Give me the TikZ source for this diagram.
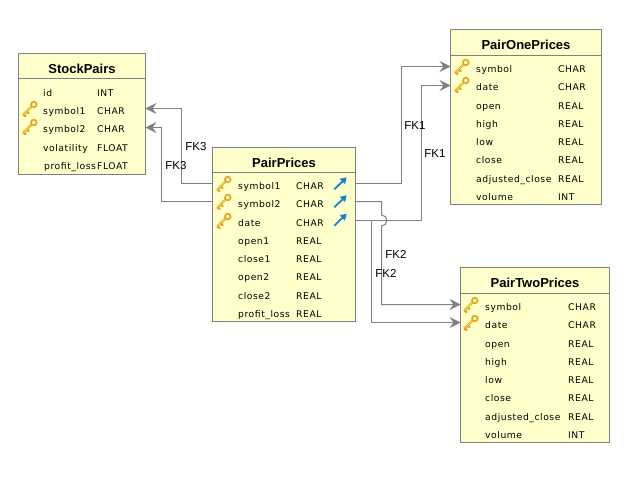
\documentclass[tikz,border=0pt]{standalone}
\usepackage{fontspec}
\usetikzlibrary{positioning,arrows.meta}
\setmainfont{Liberation Sans}
\newfontfamily\fieldfont[LetterSpace=6]{DejaVu Sans}
\definecolor{tablefill}{RGB}{255,255,204}
\definecolor{tableline}{RGB}{128,128,128}
\definecolor{keygold}{RGB}{250,215,90}
\definecolor{keyedge}{RGB}{228,168,30}
\definecolor{fkblue}{RGB}{20,130,205}
\tikzset{
    tablehead/.style={draw=tableline, fill=tablefill, line width=1pt, inner sep=0pt, outer sep=0pt, text height=14.6pt, text depth=0pt, font=\bfseries\fontsize{13}{14}\selectfont},
    tablebody/.style={draw=tableline, fill=tablefill, line width=1pt, inner sep=0pt, outer sep=0pt},
    fieldname/.style={anchor=base west, inner sep=0pt, font=\fieldfont\fontsize{9.2}{10}\selectfont},
    fkline/.style={draw=tableline, line width=1pt},
    fkarrow/.style={fkline, -{Stealth[length=11pt, width=11pt, inset=4pt]}},
    fklabel/.style={inner sep=0pt, font=\fontsize{11.5}{12}\selectfont},
    keyicon/.pic={
        \draw[keyedge, line width=2.4pt, line cap=round] (-6.5,6) -- (1.5,-2) (-6.5,6) -- (-4.5,7.5) (-3.4,2.9) -- (-1.5,4.6);
        \draw[keygold, line width=1pt, line cap=round] (-6,5.5) -- (1.5,-2);
        \draw[keyedge, fill=tablefill, line width=1.7pt] (3.8,-4) circle (2.8pt);
    },
    fkicon/.pic={
        \draw[fkblue, line width=1.8pt, -{Triangle[length=6pt, width=7pt]}] (0,0) -- (12.4,-12);
    }
}

\begin{document}
\begin{tikzpicture}[x=1pt, y=-1pt]
    \useasboundingbox (0,0) rectangle (628,487);

    \node[tablehead, anchor=north west, minimum width=127pt, minimum height=25pt] (stock) at (18.5,53.5) {StockPairs};
    \node[tablebody, below=0pt of stock, minimum width=127pt, minimum height=96pt] (stockbody) {};

    \node[tablehead, anchor=north west, minimum width=143pt, minimum height=25pt] (prices) at (212.5,147.5) {PairPrices};
    \node[tablebody, below=0pt of prices, minimum width=143pt, minimum height=149pt] (pricesbody) {};

    \node[tablehead, anchor=north west, minimum width=151pt, minimum height=26pt] (one) at (450.5,29.5) {PairOnePrices};
    \node[tablebody, below=0pt of one, minimum width=151pt, minimum height=149pt] (onebody) {};

    \node[tablehead, anchor=north west, minimum width=149pt, minimum height=26pt] (two) at (460.5,267.5) {PairTwoPrices};
    \node[tablebody, below=0pt of two, minimum width=149pt, minimum height=149pt] (twobody) {};

    % StockPairs
    \node[fieldname] (sid) at (43,96.7) {id};
    \node[fieldname] (sidt) at (97,96.7) {INT};
    \node[fieldname] (ssym1) at (43,114.7) {symbol1};
    \node[fieldname] (ssym1t) at (97,114.7) {CHAR};
    \node[fieldname] (ssym2) at (43,132.7) {symbol2};
    \node[fieldname] (ssym2t) at (97,132.7) {CHAR};
    \node[fieldname] (svol) at (43,151.7) {volatility};
    \node[fieldname] (svolt) at (97,151.7) {FLOAT};
    \node[fieldname] (sprof) at (44,169.7) {profit\_loss};
    \node[fieldname] (sproft) at (97,169.7) {FLOAT};

    % PairPrices
    \node[fieldname] (psym1) at (238,189.7) {symbol1};
    \node[fieldname] (psym1t) at (296,189.7) {CHAR};
    \node[fieldname] (psym2) at (238,207.7) {symbol2};
    \node[fieldname] (psym2t) at (296,207.7) {CHAR};
    \node[fieldname] (pdate) at (238,226.7) {date};
    \node[fieldname] (pdatet) at (296,226.7) {CHAR};
    \node[fieldname] (popen1) at (238,244.7) {open1};
    \node[fieldname] (popen1t) at (296,244.7) {REAL};
    \node[fieldname] (pclose1) at (238,262.7) {close1};
    \node[fieldname] (pclose1t) at (296,262.7) {REAL};
    \node[fieldname] (popen2) at (238,280.7) {open2};
    \node[fieldname] (popen2t) at (296,280.7) {REAL};
    \node[fieldname] (pclose2) at (238,299.7) {close2};
    \node[fieldname] (pclose2t) at (296,299.7) {REAL};
    \node[fieldname] (pprof) at (238,317.7) {profit\_loss};
    \node[fieldname] (pproft) at (296,317.7) {REAL};

    % PairOnePrices
    \node[fieldname] (asym) at (476,72.7) {symbol};
    \node[fieldname] (asymt) at (558,72.7) {CHAR};
    \node[fieldname] (adate) at (476,90.7) {date};
    \node[fieldname] (adatet) at (558,90.7) {CHAR};
    \node[fieldname] (aopen) at (476,109.7) {open};
    \node[fieldname] (aopent) at (558,109.7) {REAL};
    \node[fieldname] (ahigh) at (476,127.7) {high};
    \node[fieldname] (ahight) at (558,127.7) {REAL};
    \node[fieldname] (alow) at (476,145.7) {low};
    \node[fieldname] (alowt) at (558,145.7) {REAL};
    \node[fieldname] (aclose) at (476,163.7) {close};
    \node[fieldname] (acloset) at (558,163.7) {REAL};
    \node[fieldname] (aadj) at (476,182.7) {adjusted\_close};
    \node[fieldname] (aadjt) at (558,182.7) {REAL};
    \node[fieldname] (avol) at (476,200.7) {volume};
    \node[fieldname] (avolt) at (558,200.7) {INT};

    % PairTwoPrices
    \node[fieldname] (bsym) at (485,310.7) {symbol};
    \node[fieldname] (bsymt) at (568,310.7) {CHAR};
    \node[fieldname] (bdate) at (485,328.7) {date};
    \node[fieldname] (bdatet) at (568,328.7) {CHAR};
    \node[fieldname] (bopen) at (485,347.7) {open};
    \node[fieldname] (bopent) at (568,347.7) {REAL};
    \node[fieldname] (bhigh) at (485,365.7) {high};
    \node[fieldname] (bhight) at (568,365.7) {REAL};
    \node[fieldname] (blow) at (485,383.7) {low};
    \node[fieldname] (blowt) at (568,383.7) {REAL};
    \node[fieldname] (bclose) at (485,401.7) {close};
    \node[fieldname] (bcloset) at (568,401.7) {REAL};
    \node[fieldname] (badj) at (485,420.7) {adjusted\_close};
    \node[fieldname] (badjt) at (568,420.7) {REAL};
    \node[fieldname] (bvol) at (485,438.7) {volume};
    \node[fieldname] (bvolt) at (568,438.7) {INT};

    % icons
    \pic at (30,108.5) {keyicon};
    \pic at (30,126.5) {keyicon};
    \pic at (224,183.5) {keyicon};
    \pic at (224,201.5) {keyicon};
    \pic at (224,220.5) {keyicon};
    \pic at (462,66.5) {keyicon};
    \pic at (462,84.5) {keyicon};
    \pic at (471,304.5) {keyicon};
    \pic at (471,322.5) {keyicon};
    \pic at (334.3,189.3) {fkicon};
    \pic at (334.3,207.3) {fkicon};
    \pic at (334.3,225.7) {fkicon};

    % connectors
    \draw[fkarrow] ([yshift=-11pt]pricesbody.north west) -- ++(-31,0) |- ([yshift=-30pt]stockbody.north east);
    \draw[fkarrow] ([yshift=-29pt]pricesbody.north west) -- ++(-51,0) |- ([yshift=-49pt]stockbody.north east);
    \draw[fkarrow] ([yshift=-11pt]pricesbody.north east) -- ++(46,0) |- ([yshift=-11pt]onebody.north west);
    \draw[fkarrow] ([yshift=-48pt]pricesbody.north east) -- ++(66,0) |- ([yshift=-30pt]onebody.north west);
    \draw[fkarrow] ([yshift=-29pt]pricesbody.north east) -- ++(26,0) -- ++(0,13.5) arc[start angle=90, end angle=-90, radius=5.5pt] |- ([yshift=-11pt]twobody.north west);
    \draw[fkarrow] ([yshift=-48pt]pricesbody.north east) -- ++(16,0) |- ([yshift=-29pt]twobody.north west);

    \node[fklabel] (fk3a) at (196,147) {FK3};
    \node[fklabel] (fk3b) at (176,166) {FK3};
    \node[fklabel] (fk1a) at (415,125.7) {FK1};
    \node[fklabel] (fk1b) at (435,154) {FK1};
    \node[fklabel] (fk2a) at (396,254) {FK2};
    \node[fklabel] (fk2b) at (386,273) {FK2};
\end{tikzpicture}
\end{document}
